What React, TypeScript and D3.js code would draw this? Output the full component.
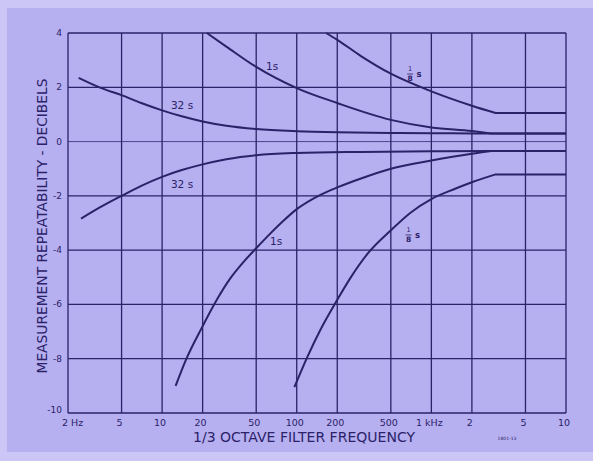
import React from "react";
import * as d3 from "d3";

const W = 593;
const H = 461;

const freqTicks = [2, 5, 10, 20, 50, 100, 200, 500, 1000, 2000, 5000, 10000];
const freqTickLabels = ["2 Hz", "5", "10", "20", "50", "100", "200", "500", "1 kHz", "2", "5", "10"];
const dbTicks = [4, 2, 0, -2, -4, -6, -8, -10];
const dbTickLabels = ["4", "2", "0", "-2", "-4", "-6", "-8", "-10"];

// [frequency Hz, dB]
const upper32s: [number, number][] = [
  [2.4, 2.35], [3.5, 1.98], [5, 1.71], [7, 1.42], [10, 1.15], [14, 0.93], [20, 0.74],
  [30, 0.58], [50, 0.46], [100, 0.38], [200, 0.34], [500, 0.32], [1000, 0.31], [2000, 0.3], [10000, 0.3],
];
const upper1s: [number, number][] = [
  [21.5, 4], [30, 3.5], [50, 2.75], [100, 1.97], [200, 1.42], [500, 0.8], [1000, 0.52],
  [2000, 0.39], [2800, 0.3], [10000, 0.3],
];
const upper8s: [number, number][] = [
  [165, 4], [200, 3.75], [300, 3.15], [500, 2.5], [1000, 1.85], [2000, 1.32], [3000, 1.05], [10000, 1.05],
];
const lower32s: [number, number][] = [
  [2.5, -2.84], [3.5, -2.41], [5, -2.0], [7, -1.63], [10, -1.3], [14, -1.05], [20, -0.84], [30, -0.65],
  [50, -0.5], [100, -0.42], [300, -0.38], [1000, -0.36], [2800, -0.35], [10000, -0.35],
];
const lower1s: [number, number][] = [
  [12.6, -9.0], [15, -8.05], [20, -6.8], [25, -5.9], [32, -5.05], [40, -4.45], [50, -3.93], [63, -3.41],
  [80, -2.91], [100, -2.49], [150, -1.96], [200, -1.69], [300, -1.36], [500, -1.0], [1000, -0.7],
  [2000, -0.45], [2800, -0.35], [10000, -0.35],
];
const lower8s: [number, number][] = [
  [96, -9.05], [120, -7.93], [150, -6.93], [200, -5.83], [250, -5.03], [335, -4.14], [500, -3.27],
  [700, -2.62], [1000, -2.12], [1500, -1.74], [2000, -1.5], [3000, -1.21], [10000, -1.21],
];

const seriesList = [upper32s, upper1s, upper8s, lower32s, lower1s, lower8s];

// curve labels: [text, frequency, dB]
const plainLabels: [string, number, number][] = [
  ["32 s", 14.06, 1.35],
  ["1s", 65.6, 2.79],
  ["32 s", 14.06, -1.56],
  ["1s", 70.2, -3.66],
];
const fractionLabels: [number, number][] = [
  [695, 2.49],
  [677, -3.44],
];

const INK = "#2b2268";
const BG = "#b6aff0";
const BG_EDGE = "#cbc6f6";

export default function App() {
  const x = d3.scaleLog().domain([2, 10000]).range([68, 566]);
  const y = d3.scaleLinear().domain([-10, 4]).range([413, 33]);

  const lineGen = d3
    .line<[number, number]>()
    .x((d) => x(d[0]))
    .y((d) => y(d[1]))
    .curve(d3.curveMonotoneX);

  const pathFor = (pts: [number, number][]) => {
    const body = lineGen(pts.slice(0, -1)) || "";
    const last = pts[pts.length - 1];
    return `${body}L${x(last[0])},${y(last[1])}`;
  };

  const font = "'DejaVu Sans', 'Liberation Sans', sans-serif";

  return (
    <svg
      width={W}
      height={H}
      style={{ position: "absolute", left: 0, top: 0 }}
      fontFamily={font}
    >
      <rect x={0} y={0} width={W} height={H} fill={BG_EDGE} />
      <rect x={7} y={8} width={W - 7} height={444} fill={BG} />

      {/* grid */}
      {freqTicks.map((f, i) => (
        <line key={"v" + i} x1={x(f)} x2={x(f)} y1={y(4)} y2={y(-10)} stroke={INK} strokeWidth={1.3} />
      ))}
      {dbTicks.map((v, i) => (
        <line
          key={"h" + i}
          x1={x(2)}
          x2={x(10000)}
          y1={y(v)}
          y2={y(v)}
          stroke={INK}
          strokeWidth={v === 0 ? 1.0 : 1.3}
          strokeOpacity={v === 0 ? 0.75 : 1}
        />
      ))}

      {/* curves */}
      {seriesList.map((s, i) => (
        <path key={"c" + i} d={pathFor(s)} fill="none" stroke={INK} strokeWidth={2} strokeLinejoin="round" />
      ))}

      {/* y tick labels */}
      {dbTicks.map((v, i) => (
        <text
          key={"yl" + i}
          x={62}
          y={y(v) + (v === -10 ? -3 : 0)}
          textAnchor="end"
          dominantBaseline="central"
          fontSize={9}
          fill={INK}
        >
          {dbTickLabels[i]}
        </text>
      ))}

      {/* x tick labels */}
      {freqTicks.map((f, i) => (
        <text
          key={"xl" + i}
          x={i === 0 ? x(f) - 6 : x(f) - 2}
          y={422}
          textAnchor={i === 0 ? "start" : "middle"}
          dominantBaseline="central"
          fontSize={9.5}
          fill={INK}
        >
          {freqTickLabels[i]}
        </text>
      ))}

      {/* axis titles */}
      <text
        x={304}
        y={437}
        textAnchor="middle"
        dominantBaseline="central"
        fontSize={13.5}
        fill={INK}
        textLength={222}
        lengthAdjust="spacingAndGlyphs"
      >
        1/3 OCTAVE FILTER FREQUENCY
      </text>
      <text
        transform={`translate(42,226) rotate(-90)`}
        textAnchor="middle"
        dominantBaseline="central"
        fontSize={13.5}
        fill={INK}
        textLength={295}
        lengthAdjust="spacingAndGlyphs"
      >
        MEASUREMENT REPEATABILITY - DECIBELS
      </text>

      {/* curve labels */}
      {plainLabels.map(([t, f, v], i) => (
        <text
          key={"pl" + i}
          x={x(f)}
          y={y(v)}
          textAnchor="middle"
          dominantBaseline="central"
          fontSize={10.5}
          fill={INK}
        >
          {t}
        </text>
      ))}
      {fractionLabels.map(([f, v], i) => (
        <g key={"fl" + i} transform={`translate(${x(f)},${y(v)})`}>
          <text x={0} y={-4.5} textAnchor="middle" dominantBaseline="central" fontSize={6.5} fill={INK}>
            1
          </text>
          <line x1={-3} x2={3} y1={0} y2={0} stroke={INK} strokeWidth={0.8} />
          <text x={0} y={4.8} textAnchor="middle" dominantBaseline="central" fontSize={7.5} fontWeight="bold" fill={INK}>
            8
          </text>
          <text x={9} y={0.5} textAnchor="middle" dominantBaseline="central" fontSize={8.5} fontWeight="bold" fill={INK}>
            s
          </text>
        </g>
      ))}

      <text x={507} y={438} textAnchor="middle" dominantBaseline="central" fontSize={4.5} fill={INK}>
        1801-13
      </text>
    </svg>
  );
}
